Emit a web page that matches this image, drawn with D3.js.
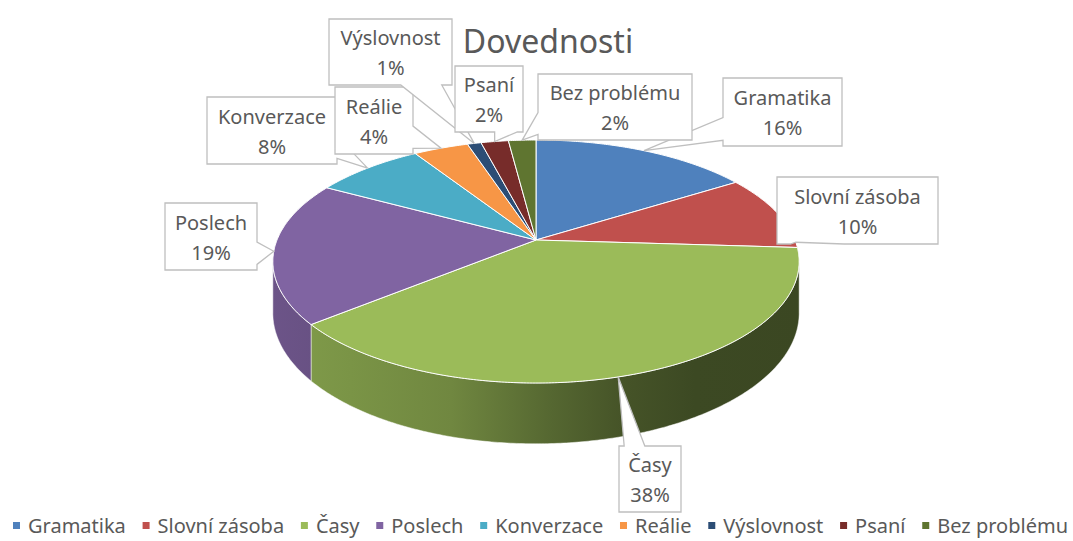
<!DOCTYPE html>
<meta charset="utf-8">
<title>Dovednosti</title>
<style>
  body { margin: 0; background: #fff; }
  text { font-family: "Noto Sans", "Open Sans", sans-serif; fill: #595959; }
</style>
<body>
<script src="https://d3js.org/d3.v7.min.js"></script>
<script>

// data
var categories = ["Gramatika", "Slovní zásoba", "Časy", "Poslech", "Konverzace", "Reálie", "Výslovnost", "Psaní", "Bez problému"];
var values = [16, 10, 38, 19, 8, 4, 1, 2, 2];
var palette = ["#4F81BD", "#C0504D", "#9BBB59", "#8064A2", "#4BACC6", "#F79646", "#2C4D75", "#772C2A", "#5F7530"];

// callout boxes (left, top, width, height) and where along the slice the wedge points
var labelBoxes = [
  [723, 78, 119, 68], [777, 177, 161, 67], [619, 446, 62, 66], [165, 203, 92, 67],
  [207, 97, 130, 67], [335, 87, 78, 67], [329, 19, 123, 66], [455, 66, 68, 66], [538, 74, 154, 66]
];
var tipAt = [0.5, 0.93, 0.52, 0.5, 0.5, 0.5, 0.5, 0.5, 0.5];

var width = 1073, height = 541;

var svg = d3.select("body").append("svg")
    .attr("width", width)
    .attr("height", height);

// perspective pie geometry
var CX = 536, CY = 240, RX = 259, RY = 117.7, K = 0.177, DEPTH = 50;

function proj(a) {
  var u = Math.sin(a), v = -Math.cos(a), s = 1 / (1 - K * v);
  return [CX + RX * u * s, CY + RY * v * s, DEPTH * s];
}

function arcPts(a0, a1) {
  var n = Math.max(2, Math.ceil((a1 - a0) / 0.01)), pts = [];
  for (var i = 0; i <= n; i++) pts.push(proj(a0 + (a1 - a0) * i / n));
  return pts;
}

var color = d3.scaleOrdinal().domain(categories).range(palette);
var total = d3.sum(values);
var pct = d3.format(".0%");

var pie = d3.pie().sort(null).value(function(d) { return d.value; });
var slices = pie(categories.map(function(c, i) { return {name: c, value: values[i], i: i}; }));

var line = d3.line();

// side shading gradients
var defs = svg.append("defs");
var shade = [[0, 0.84], [0.15, 0.79], [0.34, 0.72], [0.53, 0.55], [0.66, 0.45], [0.8, 0.39], [1, 0.38]];
slices.forEach(function(d) {
  var base = d3.rgb(color(d.data.name));
  var g = defs.append("linearGradient")
      .attr("id", "side" + d.data.i)
      .attr("gradientUnits", "userSpaceOnUse")
      .attr("x1", CX - RX - 6).attr("x2", CX + RX + 6)
      .attr("y1", 0).attr("y2", 0);
  shade.forEach(function(s) {
    g.append("stop").attr("offset", s[0])
      .attr("stop-color", d3.rgb(base.r * s[1], base.g * s[1], base.b * s[1]));
  });
});

// outer walls, front part only
var front0 = Math.acos(-K), front1 = 2 * Math.PI - Math.acos(-K);
var sides = svg.append("g");
slices.forEach(function(d) {
  var a0 = Math.max(d.startAngle, front0), a1 = Math.min(d.endAngle, front1);
  if (a1 <= a0) return;
  var top = arcPts(a0, a1);
  var bottom = top.map(function(p) { return [p[0], p[1] + p[2]]; }).reverse();
  var poly = top.map(function(p) { return [p[0], p[1]]; }).concat(bottom);
  sides.append("path")
    .attr("d", line(poly) + "Z")
    .attr("fill", "url(#side" + d.data.i + ")")
    .attr("stroke", "#fff")
    .attr("stroke-opacity", 0.6)
    .attr("stroke-width", 0.8);
});

// top faces
svg.append("g").selectAll("path")
  .data(slices)
  .enter().append("path")
    .attr("d", function(d) {
      var poly = [[CX, CY]].concat(arcPts(d.startAngle, d.endAngle).map(function(p) { return [p[0], p[1]]; }));
      return line(poly) + "Z";
    })
    .attr("fill", function(d) { return color(d.data.name); })
    .attr("stroke", "#fff")
    .attr("stroke-width", 1)
    .attr("stroke-linejoin", "round");

// title
svg.append("text")
    .attr("x", 548).attr("y", 53)
    .attr("text-anchor", "middle")
    .style("font-size", "32px")
    .text("Dovednosti");

// callout shape with a wedge pointing at (tx, ty)
function callout(x0, y0, w, h, tx, ty) {
  var cx = x0 + w / 2, cy = y0 + h / 2, dx = tx - cx, dy = ty - cy, pts;
  if (Math.abs(dx * h) > Math.abs(dy * w)) {
    var ya = dy > 0 ? y0 + h * 7 / 12 : y0 + h / 12,
        yb = dy > 0 ? y0 + h * 11 / 12 : y0 + h * 5 / 12;
    if (dx < 0) pts = [[x0, y0], [x0 + w, y0], [x0 + w, y0 + h], [x0, y0 + h], [x0, yb], [tx, ty], [x0, ya]];
    else pts = [[x0, y0], [x0 + w, y0], [x0 + w, ya], [tx, ty], [x0 + w, yb], [x0 + w, y0 + h], [x0, y0 + h]];
  } else {
    var xa = dx > 0 ? x0 + w * 7 / 12 : x0 + w / 12,
        xb = dx > 0 ? x0 + w * 11 / 12 : x0 + w * 5 / 12;
    if (dy < 0) pts = [[x0, y0], [xa, y0], [tx, ty], [xb, y0], [x0 + w, y0], [x0 + w, y0 + h], [x0, y0 + h]];
    else pts = [[x0, y0], [x0 + w, y0], [x0 + w, y0 + h], [xb, y0 + h], [tx, ty], [xa, y0 + h], [x0, y0 + h]];
  }
  return line(pts) + "Z";
}

// data labels
var labels = svg.append("g");
slices.forEach(function(d, i) {
  var b = labelBoxes[i];
  var a = d.startAngle + (d.endAngle - d.startAngle) * tipAt[i];
  var tip = proj(a);
  var g = labels.append("g");
  g.append("path")
    .attr("d", callout(b[0], b[1], b[2], b[3], tip[0], tip[1]))
    .attr("fill", "#fff")
    .attr("stroke", "#bfbfbf")
    .attr("stroke-width", 1.3);
  var cx = b[0] + b[2] / 2, cy = b[1] + b[3] / 2;
  g.append("text")
    .attr("x", cx).attr("y", cy - 7)
    .attr("text-anchor", "middle")
    .style("font-size", "20px")
    .text(d.data.name);
  g.append("text")
    .attr("x", cx).attr("y", cy + 23)
    .attr("text-anchor", "middle")
    .style("font-size", "20px")
    .text(pct(d.data.value / total));
});

// legend
var legend = svg.append("g");
var items = categories.map(function(c) {
  var g = legend.append("g");
  g.append("rect").attr("width", 7).attr("height", 7).attr("y", -11).attr("fill", color(c));
  var t = g.append("text").attr("x", 15).attr("y", 0).style("font-size", "20px").text(c);
  return {g: g, w: 15 + t.node().getComputedTextLength()};
});
var legX0 = 13, legX1 = 1068;
var gap = (legX1 - legX0 - d3.sum(items, function(d) { return d.w; })) / (items.length - 1);
var x = legX0;
items.forEach(function(it) {
  it.g.attr("transform", "translate(" + x + ",533)");
  x += it.w + gap;
});

</script>
</body>
